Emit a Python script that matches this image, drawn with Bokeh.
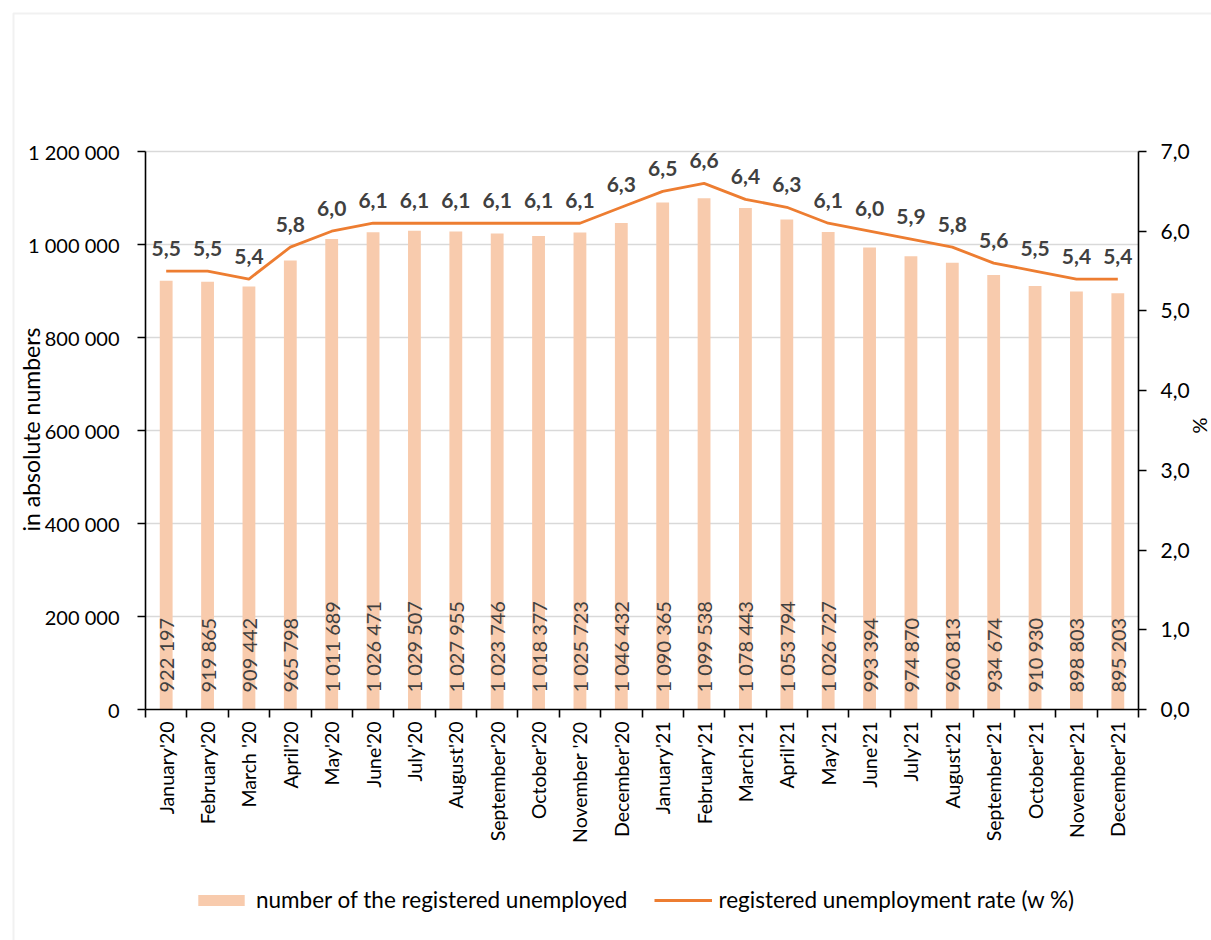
import math
from bokeh.plotting import figure
from bokeh.models import (Range1d, LinearAxis, FixedTicker, CustomJSTickFormatter,
                          ColumnDataSource, Legend, LegendItem, Label, BoxAnnotation)
from bokeh.core.properties import value
from bokeh.embed import file_html
from bokeh.resources import INLINE

months = ["January'20", "February'20", "March '20", "April'20", "May'20", "June'20",
          "July'20", "August'20", "September'20", "October'20", "November '20", "December'20",
          "January'21", "February'21", "March'21", "April'21", "May'21", "June'21",
          "July'21", "August'21", "September'21", "October'21", "November'21", "December'21"]
unemployed = [922197, 919865, 909442, 965798, 1011689, 1026471, 1029507, 1027955,
              1023746, 1018377, 1025723, 1046432, 1090365, 1099538, 1078443, 1053794,
              1026727, 993394, 974870, 960813, 934674, 910930, 898803, 895203]
rate = [5.5, 5.5, 5.4, 5.8, 6.0, 6.1, 6.1, 6.1, 6.1, 6.1, 6.1, 6.3,
        6.5, 6.6, 6.4, 6.3, 6.1, 6.0, 5.9, 5.8, 5.6, 5.5, 5.4, 5.4]
left_ticks = [0, 200000, 400000, 600000, 800000, 1000000, 1200000]
right_ticks = [0, 1, 2, 3, 4, 5, 6, 7]

FONT = "Lato"
BAR_COLOR = "#F8CBAD"
LINE_COLOR = "#ED7D31"
LABEL_COLOR = "#404040"
GRID_COLOR = "#D9D9D9"

# canvas and plot-area geometry (pixels)
W, H = 1211, 940
PL, PR, PT, PB = 145, 1138, 151, 709

n = len(months)
ymax = left_ticks[-1]
pmax = right_ticks[-1]
kx = n / (PR - PL)
ky = ymax / (PB - PT)
kp = pmax / (PB - PT)

xs = [i + 0.5 for i in range(n)]
src = ColumnDataSource(dict(
    x=xs, u=unemployed, r=rate,
    ulab=[f"{v:,}".replace(",", " ") for v in unemployed],
    rlab=[f"{v:.1f}".replace(".", ",") for v in rate],
))
grid_src = ColumnDataSource(dict(x0=[0] * (len(left_ticks) - 1), x1=[n] * (len(left_ticks) - 1),
                                 y=left_ticks[1:]))

p = figure(width=W, height=H, output_backend="svg", toolbar_location=None, title=None,
           x_range=Range1d(-PL * kx, n + (W - PR) * kx),
           y_range=Range1d(-(H - PB) * ky, ymax + PT * ky),
           x_axis_location=None, y_axis_location=None, min_border=0)
p.extra_y_ranges = {"pct": Range1d(-(H - PB) * kp, pmax + PT * kp)}
p.outline_line_color = None
p.background_fill_color = "white"
p.border_fill_color = "white"
p.xgrid.visible = False
p.ygrid.visible = False

def style_axis(ax):
    ax.axis_line_color = "black"
    ax.axis_line_width = 1.6
    ax.major_tick_line_color = "black"
    ax.major_tick_line_width = 1.6
    ax.major_tick_in = 0
    ax.major_tick_out = 8
    ax.minor_tick_line_color = None
    ax.major_label_text_font = FONT
    ax.major_label_text_color = "black"

# grid lines
p.segment(x0="x0", x1="x1", y0="y", y1="y", source=grid_src, line_color=GRID_COLOR, line_width=1.3)

bars = p.vbar(x="x", top="u", width=0.31, source=src, fill_color=BAR_COLOR, line_color=None)
line = p.line(x="x", y="r", source=src, y_range_name="pct", line_color=LINE_COLOR, line_width=2.8)

p.text(x="x", y=0, text="ulab", source=src, angle=math.pi / 2, text_align="left",
       text_baseline="middle", y_offset=-17, text_font=value(FONT),
       text_font_size="20px", text_color=LABEL_COLOR)
p.text(x="x", y="r", text="rlab", source=src, y_range_name="pct", text_align="center",
       text_baseline="alphabetic", y_offset=-23, text_font=value(FONT),
       text_font_size="21px", text_font_style="bold", text_color=LABEL_COLOR)

yax = LinearAxis(fixed_location=0, bounds=(0, ymax), ticker=FixedTicker(ticks=left_ticks),
                 formatter=CustomJSTickFormatter(
                     code="return tick.toFixed(0).replace(/\\B(?=(\\d{3})+(?!\\d))/g, ' ');"))
style_axis(yax)
yax.major_label_text_font_size = "20px"
yax.major_label_standoff = 18
p.add_layout(yax, "left")

rax = LinearAxis(y_range_name="pct", fixed_location=n, bounds=(0, pmax),
                 ticker=FixedTicker(ticks=right_ticks),
                 formatter=CustomJSTickFormatter(code="return tick.toFixed(1).replace('.', ',');"))
style_axis(rax)
rax.major_label_text_font_size = "21px"
rax.major_label_standoff = 14
p.add_layout(rax, "right")

xax = LinearAxis(fixed_location=0, bounds=(0, n),
                 ticker=FixedTicker(ticks=xs, minor_ticks=list(range(n + 1))),
                 formatter=CustomJSTickFormatter(args=dict(labels=months),
                                                 code="return labels[Math.floor(tick)];"))
style_axis(xax)
xax.major_tick_line_color = None
xax.minor_tick_line_color = "black"
xax.minor_tick_line_width = 1.6
xax.minor_tick_in = 0
xax.minor_tick_out = 8
xax.major_label_orientation = math.pi / 2
xax.major_label_text_font_size = "19.5px"
xax.major_label_standoff = 4
p.add_layout(xax, "below")

legend = Legend(items=[LegendItem(label="number of the registered unemployed", renderers=[bars]),
                       LegendItem(label="registered unemployment rate (w %)", renderers=[line])],
                orientation="horizontal", location=(192, 27), border_line_color=None,
                background_fill_alpha=0, glyph_width=58, glyph_height=14,
                label_text_font=FONT, label_text_font_size="22.5px", label_text_color="black",
                spacing=27, label_standoff=6, padding=0, margin=0)
p.add_layout(legend)

p.add_layout(Label(x=30, y=H - 429, x_units="screen", y_units="screen", text="in absolute numbers",
                   angle=math.pi / 2, text_align="center", text_baseline="middle",
                   text_font=FONT, text_font_size="23px", text_color="black"))
p.add_layout(Label(x=1200, y=H - 425, x_units="screen", y_units="screen", text="%",
                   angle=-math.pi / 2, text_align="center", text_baseline="middle",
                   text_font=FONT, text_font_size="20px", text_color="black"))

p.add_layout(BoxAnnotation(left=13, right=W + 50, top=H - 13, bottom=-50,
                           left_units="screen", right_units="screen",
                           top_units="screen", bottom_units="screen",
                           fill_alpha=0, line_color="#D0D0D0", line_width=2))

open("out.html", "w").write(file_html(p, INLINE))
